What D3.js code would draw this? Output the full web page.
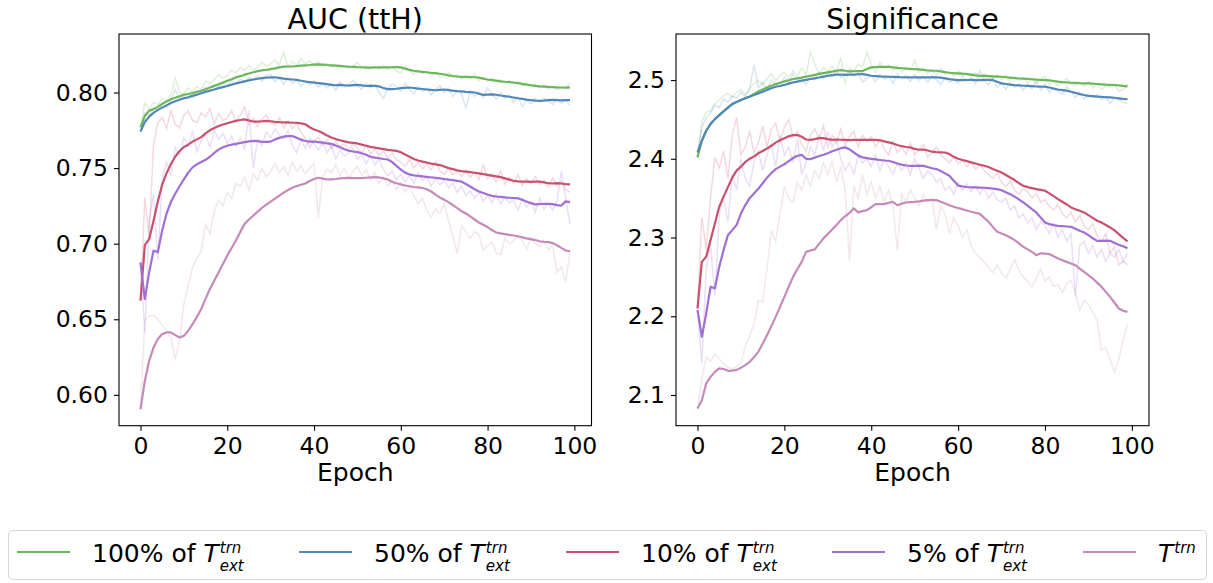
<!DOCTYPE html>
<html lang="en">
<head>
<meta charset="UTF-8">
<title>AUC (ttH) and Significance per epoch</title>
<script src="https://d3js.org/d3.v7.min.js"></script>
<style>
  body { margin: 0; background: #fff; font-family: "DejaVu Sans", sans-serif; }
</style>
</head>
<body>
<svg id="chart" width="1213" height="583"></svg>
<script>
// ---------- data ----------
const epochs = d3.range(100);
const seriesLabels = ["100% of", "50% of", "10% of", "5% of", ""];
const seriesExt = [true, true, true, true, false];
const colors = ["#6bb75a", "#5288b8", "#c8516f", "#a06fd2", "#c48bb8"];
const epochTicks = [0, 20, 40, 60, 80, 100];
const aucTicks = [0.60, 0.65, 0.70, 0.75, 0.80];
const sigTicks = [2.1, 2.2, 2.3, 2.4, 2.5];

// AUC, smoothed curves
const aucSmooth100 = [
  .7770,.7845,.7880,.7890,.7905,.7925,.7940,.7955,.7965,.7975,
  .7985,.7990,.7997,.8003,.8012,.8022,.8033,.8044,.8055,.8066,
  .8077,.8088,.8100,.8108,.8118,.8126,.8134,.8141,.8146,.8150,
  .8155,.8160,.8166,.8171,.8172,.8172,.8174,.8178,.8180,.8182,
  .8185,.8186,.8185,.8182,.8180,.8178,.8176,.8173,.8171,.8170,
  .8168,.8167,.8165,.8165,.8166,.8167,.8166,.8166,.8167,.8168,
  .8166,.8158,.8150,.8144,.8140,.8137,.8134,.8130,.8128,.8124,
  .8119,.8113,.8109,.8106,.8104,.8103,.8102,.8101,.8098,.8092,
  .8086,.8082,.8078,.8074,.8071,.8069,.8066,.8062,.8057,.8052,
  .8048,.8044,.8041,.8039,.8037,.8036,.8034,.8033,.8032,.8034];
const aucSmooth50 = [
  .7741,.7805,.7840,.7865,.7885,.7900,.7915,.7930,.7942,.7952,
  .7962,.7968,.7978,.7985,.7995,.8004,.8012,.8020,.8029,.8036,
  .8043,.8052,.8060,.8067,.8074,.8080,.8086,.8091,.8095,.8098,
  .8100,.8101,.8097,.8092,.8088,.8086,.8083,.8078,.8073,.8069,
  .8065,.8062,.8059,.8055,.8051,.8048,.8050,.8048,.8046,.8049,
  .8051,.8047,.8043,.8045,.8044,.8040,.8030,.8022,.8022,.8025,
  .8029,.8031,.8033,.8030,.8026,.8023,.8020,.8017,.8015,.8018,
  .8020,.8016,.8012,.8009,.8007,.8004,.8002,.8000,.7992,.7984,
  .7986,.7988,.7985,.7980,.7976,.7972,.7967,.7962,.7958,.7953,
  .7949,.7946,.7944,.7946,.7949,.7951,.7950,.7948,.7949,.7950];
const aucSmooth10 = [
  .6623,.6990,.7030,.7150,.7280,.7390,.7465,.7525,.7575,.7613,
  .7640,.7655,.7675,.7690,.7705,.7730,.7750,.7765,.7778,.7788,
  .7797,.7805,.7812,.7818,.7822,.7815,.7808,.7808,.7810,.7812,
  .7810,.7806,.7804,.7803,.7802,.7800,.7800,.7796,.7790,.7770,
  .7755,.7745,.7732,.7715,.7702,.7692,.7684,.7677,.7670,.7667,
  .7663,.7655,.7648,.7640,.7635,.7630,.7625,.7620,.7617,.7614,
  .7605,.7590,.7575,.7560,.7550,.7543,.7536,.7530,.7525,.7520,
  .7510,.7500,.7493,.7485,.7480,.7477,.7473,.7469,.7465,.7460,
  .7455,.7450,.7445,.7440,.7432,.7424,.7416,.7412,.7410,.7410,
  .7409,.7410,.7410,.7405,.7400,.7398,.7400,.7398,.7394,.7392];
const aucSmooth5 = [
  .6877,.6634,.6810,.6954,.6943,.7087,.7198,.7275,.7330,.7380,
  .7425,.7470,.7505,.7525,.7540,.7555,.7575,.7600,.7622,.7638,
  .7648,.7655,.7660,.7666,.7672,.7677,.7680,.7678,.7674,.7673,
  .7675,.7690,.7700,.7708,.7711,.7712,.7700,.7688,.7679,.7675,
  .7676,.7672,.7668,.7664,.7660,.7650,.7638,.7625,.7615,.7610,
  .7606,.7598,.7588,.7575,.7569,.7565,.7560,.7557,.7540,.7515,
  .7490,.7470,.7458,.7452,.7448,.7445,.7442,.7438,.7436,.7432,
  .7428,.7424,.7420,.7416,.7410,.7395,.7378,.7360,.7345,.7335,
  .7325,.7316,.7312,.7310,.7306,.7304,.7302,.7300,.7290,.7278,
  .7268,.7260,.7262,.7264,.7263,.7262,.7255,.7252,.7280,.7275];
const aucSmoothBase = [
  .5904,.6092,.6225,.6313,.6369,.6402,.6413,.6413,.6395,.6380,
  .6390,.6424,.6468,.6515,.6568,.6635,.6700,.6755,.6810,.6865,
  .6921,.6972,.7021,.7078,.7131,.7160,.7186,.7212,.7237,.7258,
  .7278,.7298,.7318,.7338,.7355,.7370,.7381,.7390,.7398,.7415,
  .7428,.7436,.7430,.7425,.7425,.7428,.7432,.7434,.7435,.7434,
  .7433,.7434,.7436,.7438,.7440,.7438,.7432,.7425,.7410,.7400,
  .7392,.7385,.7380,.7375,.7372,.7368,.7360,.7345,.7325,.7305,
  .7290,.7275,.7255,.7235,.7215,.7200,.7180,.7160,.7140,.7125,
  .7110,.7090,.7074,.7068,.7063,.7058,.7054,.7049,.7042,.7035,
  .7030,.7024,.7016,.7012,.7010,.7004,.6990,.6972,.6955,.6950];

// AUC, raw per-epoch values (faint lines)
const aucRaw100 = [
  .7770,.7930,.7890,.7935,.7920,.7960,.7945,.7985,.8095,.8000,
  .7990,.8030,.8005,.8040,.8020,.8075,.8060,.8085,.8120,.8095,
  .8115,.8150,.8130,.8165,.8145,.8180,.8150,.8165,.8200,.8175,
  .8190,.8215,.8180,.8265,.8170,.8205,.8180,.8225,.8190,.8210,
  .8185,.8200,.8175,.8190,.8170,.8185,.8165,.8180,.8160,.8175,
  .8200,.8165,.8175,.8160,.8170,.8155,.8180,.8150,.8170,.8140,
  .8130,.8175,.8145,.8120,.8150,.8125,.8140,.8110,.8130,.8100,
  .8115,.8135,.8100,.8120,.8090,.8110,.8095,.8125,.8080,.8100,
  .8075,.8095,.8070,.8085,.8060,.8080,.8055,.8070,.8045,.8065,
  .8040,.8055,.8030,.8050,.8025,.8040,.8020,.8035,.8030,.8065];
const aucRaw50 = [
  .7741,.7865,.7850,.7895,.7880,.7920,.7900,.7950,.8020,.7960,
  .7975,.7990,.7965,.8015,.8000,.8035,.8010,.8050,.8035,.8065,
  .8045,.8080,.8060,.8090,.8070,.8100,.8085,.8110,.8075,.8115,
  .8120,.8070,.8095,.8055,.8100,.8060,.8085,.8040,.8075,.8050,
  .8080,.8035,.8065,.8030,.8060,.8015,.8070,.8035,.8055,.8080,
  .8045,.8020,.8060,.8030,.8050,.8005,.7960,.8030,.8055,.8035,
  .8010,.8060,.8020,.7990,.8040,.8005,.8030,.7985,.8020,.8045,
  .8000,.8030,.7975,.8015,.7990,.7900,.8010,.7975,.8005,.7965,
  .8030,.7990,.7955,.8000,.7960,.7985,.7935,.7975,.7905,.7950,
  .7925,.7960,.7935,.7965,.7940,.7920,.7955,.7930,.7950,.7915];
const aucRaw10 = [
  .6623,.7304,.7050,.7650,.7800,.7835,.7760,.7880,.7790,.7765,
  .7850,.7880,.7815,.7800,.7865,.7840,.7895,.7790,.7860,.7815,
  .7830,.7880,.7810,.7850,.7905,.7790,.7830,.7775,.7825,.7850,
  .7800,.7785,.7835,.7765,.7810,.7760,.7795,.7735,.7700,.7640,
  .7680,.7705,.7650,.7690,.7630,.7675,.7645,.7660,.7615,.7665,
  .7630,.7600,.7650,.7595,.7625,.7580,.7610,.7570,.7600,.7555,
  .7540,.7510,.7560,.7500,.7540,.7495,.7525,.7490,.7545,.7480,
  .7460,.7500,.7455,.7480,.7445,.7490,.7440,.7470,.7425,.7520,
  .7430,.7460,.7410,.7480,.7395,.7440,.7400,.7455,.7385,.7430,
  .7400,.7445,.7390,.7420,.7375,.7435,.7380,.7410,.7360,.7340];
const aucRaw5 = [
  .6877,.6413,.7150,.7330,.6890,.7420,.7540,.7450,.7640,.7580,
  .7700,.7650,.7740,.7610,.7680,.7720,.7640,.7750,.7690,.7730,
  .7660,.7710,.7640,.7700,.7620,.7880,.7500,.7690,.7650,.7740,
  .7700,.7760,.7720,.7690,.7750,.7650,.7600,.7690,.7630,.7700,
  .7660,.7620,.7680,.7600,.7650,.7560,.7620,.7580,.7600,.7630,
  .7560,.7590,.7530,.7580,.7520,.7560,.7490,.7450,.7480,.7420,
  .7460,.7410,.7450,.7400,.7470,.7420,.7440,.7380,.7430,.7390,
  .7420,.7370,.7400,.7340,.7380,.7320,.7350,.7300,.7340,.7280,
  .7320,.7270,.7330,.7260,.7310,.7270,.7290,.7220,.7300,.7240,
  .7280,.7210,.7300,.7230,.7270,.7220,.7280,.7480,.7300,.7130];
const aucRawBase = [
  .5904,.6490,.6520,.6525,.6500,.6460,.6425,.6380,.6236,.6360,
  .6600,.6720,.6845,.6900,.6950,.7130,.7065,.7210,.7290,.7250,
  .7340,.7300,.7400,.7380,.7440,.7350,.7460,.7420,.7500,.7440,
  .7480,.7530,.7470,.7510,.7450,.7540,.7480,.7520,.7460,.7500,
  .7530,.7175,.7440,.7490,.7470,.7520,.7450,.7500,.7430,.7480,
  .7510,.7450,.7490,.7420,.7470,.7400,.7440,.7380,.7420,.7360,
  .7400,.7340,.7380,.7320,.7265,.7300,.7220,.7175,.7230,.7200,
  .7265,.7150,.7050,.6935,.7120,.7080,.7035,.7080,.7060,.6955,
  .6990,.7010,.6940,.6925,.7035,.7000,.7020,.7045,.7020,.6965,
  .7040,.7000,.6980,.7020,.6960,.6990,.6810,.6850,.6745,.6950];

// Significance, smoothed curves
const sigSmooth100 = [
  2.4018,2.4229,2.4356,2.4441,2.4504,2.4555,2.4602,2.4650,2.4695,2.4722,
  2.4746,2.4768,2.4790,2.4822,2.4856,2.4880,2.4905,2.4928,2.4949,2.4966,
  2.4983,2.4998,2.5013,2.5022,2.5032,2.5044,2.5055,2.5066,2.5078,2.5088,
  2.5098,2.5108,2.5118,2.5127,2.5118,2.5110,2.5112,2.5114,2.5114,2.5140,
  2.5161,2.5165,2.5167,2.5168,2.5169,2.5162,2.5155,2.5150,2.5146,2.5142,
  2.5140,2.5136,2.5130,2.5124,2.5120,2.5118,2.5110,2.5100,2.5093,2.5088,
  2.5085,2.5082,2.5076,2.5068,2.5060,2.5055,2.5052,2.5050,2.5047,2.5044,
  2.5042,2.5036,2.5030,2.5025,2.5020,2.5017,2.5014,2.5010,2.5006,2.5003,
  2.5000,2.4995,2.4988,2.4980,2.4974,2.4970,2.4966,2.4963,2.4960,2.4959,
  2.4958,2.4955,2.4950,2.4946,2.4942,2.4940,2.4937,2.4932,2.4925,2.4920];
const sigSmooth50 = [
  2.4081,2.4229,2.4356,2.4441,2.4504,2.4555,2.4602,2.4650,2.4695,2.4722,
  2.4746,2.4768,2.4788,2.4810,2.4830,2.4852,2.4875,2.4895,2.4915,2.4925,
  2.4938,2.4955,2.4970,2.4980,2.4992,2.5003,2.5013,2.5022,2.5032,2.5044,
  2.5055,2.5062,2.5068,2.5068,2.5066,2.5068,2.5070,2.5074,2.5076,2.5066,
  2.5055,2.5050,2.5046,2.5044,2.5042,2.5040,2.5038,2.5036,2.5035,2.5034,
  2.5034,2.5035,2.5036,2.5035,2.5034,2.5034,2.5030,2.5022,2.5012,2.5005,
  2.5000,2.5000,2.5001,2.5002,2.5000,2.5000,2.5002,2.5003,2.4998,2.4978,
  2.4958,2.4950,2.4942,2.4936,2.4932,2.4928,2.4925,2.4922,2.4918,2.4916,
  2.4915,2.4905,2.4892,2.4880,2.4872,2.4865,2.4852,2.4838,2.4822,2.4810,
  2.4800,2.4795,2.4790,2.4786,2.4782,2.4780,2.4775,2.4768,2.4762,2.4759];
const sigSmooth10 = [
  2.2099,2.2691,2.2755,2.2967,2.3179,2.3390,2.3520,2.3640,2.3760,2.3850,
  2.3900,2.3960,2.4000,2.4030,2.4070,2.4100,2.4130,2.4165,2.4205,2.4235,
  2.4260,2.4285,2.4300,2.4302,2.4280,2.4245,2.4240,2.4250,2.4262,2.4263,
  2.4250,2.4240,2.4245,2.4242,2.4240,2.4238,2.4240,2.4240,2.4240,2.4240,
  2.4240,2.4240,2.4235,2.4222,2.4208,2.4195,2.4175,2.4160,2.4150,2.4145,
  2.4125,2.4115,2.4118,2.4105,2.4090,2.4085,2.4082,2.4080,2.4060,2.4025,
  2.4000,2.3985,2.3970,2.3955,2.3940,2.3925,2.3911,2.3895,2.3870,2.3848,
  2.3825,2.3795,2.3763,2.3730,2.3690,2.3657,2.3640,2.3628,2.3615,2.3605,
  2.3594,2.3560,2.3525,2.3488,2.3455,2.3420,2.3382,2.3360,2.3340,2.3319,
  2.3285,2.3250,2.3213,2.3190,2.3160,2.3128,2.3090,2.3043,2.2995,2.2950];
const sigSmooth5 = [
  2.2080,2.1738,2.2035,2.2374,2.2353,2.2628,2.2840,2.3030,2.3094,2.3158,
  2.3306,2.3412,2.3500,2.3560,2.3620,2.3690,2.3760,2.3820,2.3869,2.3900,
  2.3930,2.3970,2.4010,2.4038,2.4050,2.4000,2.3996,2.4015,2.4035,2.4051,
  2.4070,2.4095,2.4115,2.4135,2.4145,2.4120,2.4080,2.4040,2.4018,2.4008,
  2.4000,2.3992,2.3985,2.3978,2.3975,2.3960,2.3940,2.3925,2.3915,2.3911,
  2.3911,2.3912,2.3910,2.3895,2.3880,2.3869,2.3845,2.3815,2.3784,2.3720,
  2.3660,2.3650,2.3642,2.3636,2.3636,2.3634,2.3632,2.3628,2.3622,2.3615,
  2.3600,2.3575,2.3551,2.3520,2.3485,2.3446,2.3405,2.3360,2.3319,2.3255,
  2.3192,2.3170,2.3158,2.3149,2.3145,2.3140,2.3136,2.3110,2.3085,2.3064,
  2.3030,2.2990,2.2958,2.2958,2.2960,2.2958,2.2930,2.2907,2.2890,2.2865];
const sigSmoothBase = [
  2.0828,2.0934,2.1146,2.1230,2.1294,2.1337,2.1330,2.1307,2.1310,2.1319,
  2.1345,2.1379,2.1420,2.1480,2.1548,2.1650,2.1760,2.1875,2.1992,2.2120,
  2.2246,2.2375,2.2500,2.2600,2.2691,2.2818,2.2835,2.2849,2.2920,2.2989,
  2.3045,2.3103,2.3160,2.3221,2.3270,2.3314,2.3370,2.3320,2.3335,2.3348,
  2.3385,2.3424,2.3424,2.3424,2.3440,2.3454,2.3410,2.3430,2.3445,2.3450,
  2.3454,2.3460,2.3468,2.3475,2.3476,2.3475,2.3455,2.3433,2.3410,2.3390,
  2.3375,2.3360,2.3343,2.3327,2.3315,2.3300,2.3250,2.3200,2.3135,2.3073,
  2.3050,2.3030,2.3000,2.2967,2.2925,2.2882,2.2850,2.2818,2.2776,2.2800,
  2.2795,2.2790,2.2762,2.2734,2.2712,2.2691,2.2670,2.2649,2.2606,2.2564,
  2.2522,2.2480,2.2427,2.2374,2.2310,2.2246,2.2172,2.2099,2.2070,2.2056];

// Significance, raw per-epoch values (faint lines)
const sigRaw100 = [
  2.4018,2.4470,2.4590,2.4610,2.4700,2.4740,2.4800,2.4830,2.4780,2.4850,
  2.4880,2.4820,2.4900,2.4950,2.5000,2.4940,2.5020,2.5080,2.4990,2.5060,
  2.5100,2.5030,2.5120,2.5050,2.5150,2.5070,2.5350,2.5200,2.5080,2.5160,
  2.5110,2.5180,2.5090,2.5290,2.4950,2.5150,2.5120,2.5200,2.5170,2.5350,
  2.5200,2.5100,2.5220,2.5150,2.5190,2.5120,2.5180,2.5100,2.5160,2.5120,
  2.5250,2.5100,2.5150,2.5080,2.5130,2.5060,2.5140,2.5070,2.5110,2.5050,
  2.5120,2.5060,2.5090,2.5040,2.5100,2.5030,2.5080,2.5050,2.5020,2.5070,
  2.5010,2.5060,2.5000,2.5040,2.4990,2.5030,2.4970,2.5020,2.4960,2.5010,
  2.5050,2.4940,2.4980,2.4930,2.4970,2.5020,2.4950,2.4930,2.4960,2.4920,
  2.4980,2.4900,2.4950,2.4880,2.4930,2.4910,2.4940,2.4860,2.4880,2.4950];
const sigRaw50 = [
  2.4081,2.4400,2.4520,2.4580,2.4680,2.4650,2.4760,2.4720,2.4800,2.4770,
  2.4850,2.4790,2.4880,2.5195,2.4900,2.4970,2.4880,2.5000,2.4950,2.4920,
  2.5040,2.4960,2.5080,2.4990,2.5030,2.4940,2.5060,2.5010,2.5100,2.5020,
  2.5090,2.5040,2.5130,2.5030,2.5080,2.5120,2.5050,2.5100,2.4970,2.5020,
  2.5060,2.4980,2.5070,2.5010,2.5050,2.4960,2.5080,2.5020,2.5060,2.4980,
  2.5070,2.5000,2.5050,2.4970,2.5060,2.5000,2.4940,2.5030,2.4970,2.5010,
  2.4960,2.5050,2.4990,2.5020,2.4950,2.5120,2.4990,2.4940,2.5030,2.4900,
  2.4960,2.4880,2.4970,2.4910,2.4950,2.4870,2.4950,2.4890,2.4990,2.4870,
  2.4950,2.4840,2.4900,2.4860,2.4820,2.4920,2.4850,2.4780,2.4840,2.4760,
  2.4820,2.4780,2.4810,2.4750,2.4790,2.4700,2.4780,2.4750,2.4720,2.4700];
const sigRaw10 = [
  2.2099,2.3255,2.2850,2.3500,2.4018,2.3880,2.4100,2.3750,2.4300,2.4526,
  2.4050,2.4150,2.4350,2.4080,2.4200,2.4420,2.4150,2.4380,2.4450,2.4220,
  2.4400,2.4500,2.4280,2.4350,2.4180,2.4100,2.4300,2.4380,2.4250,2.4420,
  2.4150,2.4300,2.4200,2.4380,2.4170,2.4280,2.4350,2.4150,2.4300,2.4220,
  2.4280,2.4150,2.4250,2.4120,2.4050,2.4220,2.4080,2.4150,2.4060,2.4200,
  2.4050,2.4120,2.4180,2.4020,2.4080,2.4150,2.4050,2.4000,2.3950,2.4020,
  2.3940,2.3980,2.3900,2.3960,2.3870,2.3920,2.3850,2.3800,2.3750,2.3820,
  2.3700,2.3650,2.3720,2.3600,2.3550,2.3620,2.3580,2.3500,2.3560,2.3450,
  2.3480,2.3400,2.3350,2.3420,2.3300,2.3250,2.3320,2.3200,2.3280,2.3150,
  2.3100,2.3180,2.3020,2.2950,2.3050,2.2800,2.2880,2.2650,2.2700,2.2650];
const sigRaw5 = [
  2.2080,2.1400,2.2600,2.2900,2.2250,2.3300,2.3500,2.3200,2.3800,2.3600,
  2.4000,2.3750,2.3650,2.3950,2.4100,2.3850,2.4050,2.4200,2.3900,2.4300,
  2.4050,2.4150,2.3950,2.4250,2.3800,2.3950,2.4150,2.4050,2.4300,2.4100,
  2.4350,2.4150,2.4250,2.4000,2.3850,2.3950,2.3800,2.4050,2.3950,2.4000,
  2.3900,2.4050,2.3850,2.4000,2.3900,2.3800,2.3950,2.3850,2.3950,2.3800,
  2.4000,2.3880,2.3750,2.3850,2.3800,2.3700,2.3750,2.3600,2.3650,2.3550,
  2.3700,2.3600,2.3680,2.3580,2.3650,2.3550,2.3640,2.3500,2.3580,2.3480,
  2.3450,2.3500,2.3350,2.3400,2.3250,2.3300,2.3180,2.3250,2.3100,2.3200,
  2.3150,2.3050,2.3180,2.3000,2.3100,2.2950,2.3050,2.2250,2.2900,2.2950,
  2.2800,2.2900,2.2750,2.2850,2.2700,2.2800,2.2750,2.2850,2.2700,2.2800];
const sigRawBase = [
  2.0828,2.1200,2.1480,2.1430,2.1520,2.1460,2.1400,2.1350,2.1330,2.1360,
  2.1400,2.1620,2.1750,2.1900,2.2200,2.2180,2.2600,2.3090,2.2950,2.3300,
  2.3640,2.3500,2.3450,2.3700,2.3600,2.3800,2.3650,2.3850,2.3750,2.3950,
  2.3800,2.3975,2.3700,2.3900,2.3600,2.2700,2.3650,2.3500,2.3800,2.3550,
  2.3700,2.3500,2.3650,2.3450,2.3600,2.3400,2.2840,2.3550,2.3450,2.3600,
  2.3500,2.3400,2.3550,2.3450,2.3500,2.3100,2.3400,2.3300,2.3050,2.3250,
  2.3150,2.3000,2.3100,2.2900,2.2800,2.2750,2.2690,2.2620,2.2560,2.2650,
  2.2550,2.2480,2.2600,2.2720,2.2580,2.2500,2.2450,2.2370,2.2480,2.2600,
  2.2450,2.2500,2.2380,2.2400,2.2300,2.2420,2.2450,2.2300,2.2080,2.2200,
  2.2150,2.2050,2.1950,2.1570,2.1600,2.1450,2.1290,2.1450,2.1700,2.1900];

// ---------- layout ----------
const plotTop = 34, plotBottom = 425.7;
const svg = d3.select("#chart");
const font = "DejaVu Sans, sans-serif";

const panels = [
  {
    title: "AUC (ttH)", left: 119, right: 591.5,
    domain: [0.5796, 0.8387], ticks: aucTicks, fmt: d3.format(".2f"),
    raw: [aucRaw100, aucRaw50, aucRaw10, aucRaw5, aucRawBase],
    smooth: [aucSmooth100, aucSmooth50, aucSmooth10, aucSmooth5, aucSmoothBase]
  },
  {
    title: "Significance", left: 676, right: 1149,
    domain: [2.061, 2.5585], ticks: sigTicks, fmt: d3.format(".1f"),
    raw: [sigRaw100, sigRaw50, sigRaw10, sigRaw5, sigRawBase],
    smooth: [sigSmooth100, sigSmooth50, sigSmooth10, sigSmooth5, sigSmoothBase]
  }
];

panels.forEach(p => {
  const x = d3.scaleLinear().domain([-4.95, 103.95]).range([p.left, p.right]);
  const y = d3.scaleLinear().domain(p.domain).range([plotBottom, plotTop]);
  const line = d3.line().x((d, i) => x(epochs[i])).y(d => y(d));
  const g = svg.append("g");

  // faint raw curves first, then the smoothed ones on top
  p.raw.forEach((s, k) => {
    g.append("path").attr("d", line(s))
      .attr("fill", "none").attr("stroke", colors[k])
      .attr("stroke-opacity", 0.22).attr("stroke-width", 1.5);
  });
  p.smooth.forEach((s, k) => {
    g.append("path").attr("d", line(s))
      .attr("fill", "none").attr("stroke", colors[k])
      .attr("stroke-width", 2.2).attr("stroke-linejoin", "round");
  });

  const xAxis = g.append("g").attr("transform", `translate(0,${plotBottom})`)
    .call(d3.axisBottom(x).tickValues(epochTicks).tickSize(5).tickSizeOuter(0).tickPadding(7));
  const yAxis = g.append("g").attr("transform", `translate(${p.left},0)`)
    .call(d3.axisLeft(y).tickValues(p.ticks).tickFormat(p.fmt).tickSize(5).tickSizeOuter(0).tickPadding(6));
  [xAxis, yAxis].forEach(a => {
    a.select(".domain").remove();
    a.attr("font-size", 23.5).attr("font-family", font);
    a.selectAll("line").attr("stroke", "#000").attr("stroke-width", 1.1);
    a.selectAll("text").attr("fill", "#000");
  });

  g.append("rect")
    .attr("x", p.left).attr("y", plotTop)
    .attr("width", p.right - p.left).attr("height", plotBottom - plotTop)
    .attr("fill", "none").attr("stroke", "#000").attr("stroke-width", 1.1);

  g.append("text")
    .attr("x", (p.left + p.right) / 2).attr("y", 29)
    .attr("text-anchor", "middle").attr("font-family", font).attr("font-size", 28.5)
    .text(p.title);

  g.append("text")
    .attr("x", (p.left + p.right) / 2).attr("y", 481)
    .attr("text-anchor", "middle").attr("font-family", font).attr("font-size", 25)
    .text("Epoch");
});

// ---------- legend ----------
const legend = svg.append("g");
legend.append("rect")
  .attr("x", 8.5).attr("y", 530.5).attr("width", 1198).attr("height", 49).attr("rx", 4)
  .attr("fill", "#fff").attr("stroke", "#d6d6d6").attr("stroke-width", 1);

// left edge of each legend entry, as placed in the reference
const legendX = [17, 299, 566, 832, 1083];
const legendBase = 561.5;
seriesLabels.forEach((lab, k) => {
  const cx = legendX[k];
  const item = legend.append("g");
  item.append("line")
    .attr("x1", cx).attr("x2", cx + 53).attr("y1", 552).attr("y2", 552)
    .attr("stroke", colors[k]).attr("stroke-width", 2.2);
  const tx = cx + 75;
  const t = item.append("text").attr("x", tx).attr("y", legendBase)
    .attr("font-family", font).attr("font-size", 25);
  if (lab) t.append("tspan").text(lab + " ");
  t.append("tspan").attr("font-style", "italic").text("T");
  const sx = tx + t.node().getComputedTextLength() + 1;
  item.append("text").attr("x", sx).attr("y", legendBase - 8.5)
    .attr("font-family", font).attr("font-size", 15).attr("font-style", "italic").text("trn");
  if (seriesExt[k]) {
    item.append("text").attr("x", sx).attr("y", legendBase + 9.5)
      .attr("font-family", font).attr("font-size", 15).attr("font-style", "italic").text("ext");
  }
});
</script>
</body>
</html>
